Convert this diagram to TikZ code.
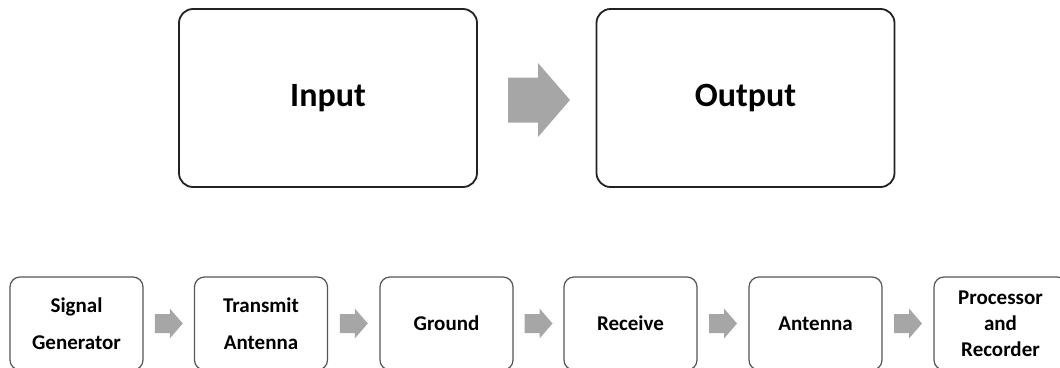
\documentclass[tikz,border=0pt]{standalone}
\usepackage{fontspec}
\setmainfont{Carlito}
\usetikzlibrary{calc}
\definecolor{arrowgray}{HTML}{A6A6A6}
\definecolor{boxline}{HTML}{222222}
\definecolor{smallline}{HTML}{555555}
\begin{document}
\begin{tikzpicture}[x=1pt,y=-1pt,
  bigbox/.style={draw=boxline, line width=1.8pt, rounded corners=14pt,
    minimum width=298pt, minimum height=178pt, inner sep=0pt,
    font=\fontsize{34}{40}\selectfont\bfseries},
  smallbox/.style={draw=smallline, line width=1.2pt, rounded corners=10pt,
    minimum width=133pt, minimum height=93pt, inner sep=0pt, align=center,
    font=\fontsize{21}{26}\selectfont\bfseries},
  bigarrow/.pic={\fill[arrowgray] (-31,-22.5) -- (-1,-22.5) -- (-1,-37) -- (31,0)
      -- (-1,37) -- (-1,22.5) -- (-31,22.5) -- cycle;},
  smallarrow/.pic={\fill[arrowgray] (-14,-9.5) -- (1,-9.5) -- (1,-15) -- (14,0)
      -- (1,15) -- (1,9.5) -- (-14,9.5) -- cycle;}]
\useasboundingbox (0,0) rectangle (1060,367);
\clip (0,0) rectangle (1060,367);

\node[bigbox] (in) at (328,98) {Input};
\node[bigbox] (out) at (745.5,98) {Output};
\coordinate (ba) at (539,100);
\pic at (ba) {bigarrow};

\node[smallbox] (b1) at (76.5,323.5) {Signal\\[11pt]Generator};
\node[smallbox] (b2) at (261,323.5) {Transmit\\[11pt]Antenna};
\node[smallbox] (b3) at (446.5,323.5) {Ground};
\node[smallbox] (b4) at (630.5,323.5) {Receive};
\node[smallbox] (b5) at (815.5,323.5) {Antenna};
\node[smallbox] (b6) at (1000.5,323.5) {Processor\\and\\Recorder};

\pic at ($(b1.east)!0.5!(b2.west)$) {smallarrow};
\pic at ($(b2.east)!0.5!(b3.west)$) {smallarrow};
\pic at ($(b3.east)!0.5!(b4.west)$) {smallarrow};
\pic at ($(b4.east)!0.5!(b5.west)$) {smallarrow};
\pic at ($(b5.east)!0.5!(b6.west)$) {smallarrow};
\end{tikzpicture}
\end{document}
